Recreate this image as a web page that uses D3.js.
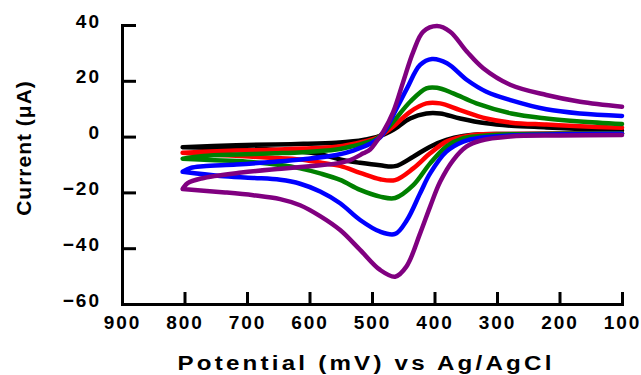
<!DOCTYPE html>
<html>
<head>
<meta charset="utf-8">
<script src="https://cdn.jsdelivr.net/npm/d3@7"></script>
<style>
  body { margin: 0; background: #fff; }
  svg { display: block; }
  text { font-family: "Liberation Sans", Arial, sans-serif; font-weight: bold; fill: #000; }
  .tick text { font-size: 19px; letter-spacing: 2px; }
  .axis path, .axis line { stroke: #000; stroke-width: 3; }
  .cv { fill: none; stroke-width: 4.5; stroke-linejoin: round; stroke-linecap: round; }
</style>
</head>
<body>
<svg width="641" height="375"></svg>
<script>
// tick values
const xTicks = [900, 800, 700, 600, 500, 400, 300, 200, 100]
const yTicks = [40, 20, 0, -20, -40, -60]

// [potential mV, current uA]; return branch (100 -> 800), then forward branch (800 -> 100)
const blackLower = [[100,1.1],[200,1.0],[279,0.9],[327,0.8],[354,0.2],[381,-1.2],[407,-3.6],[434,-7.2],[463,-10.6],[487,-10.3],[519,-9.4],[551,-8.2],[583,-6.3],[615,-5.3],[663,-4.6],[717,-4.2],[770,-4.0],[803,-3.8]]
const blackUpper = [[803,-3.8],[717,-3.1],[655,-2.8],[610,-2.6],[557,-2.2],[530,-1.7],[510,-1.0],[493,-0.2],[480,0.9],[466,2.4],[439,6.5],[413,8.3],[391,8.3],[359,6.5],[317,4.75],[277,3.9],[221,3.3],[167,2.7],[100,2.1]]

const redLower = [[100,1.2],[200,1.0],[279,0.9],[327,0.8],[354,0.0],[381,-1.8],[407,-6.0],[434,-11.4],[463,-15.6],[487,-15.3],[519,-13.0],[551,-10.5],[583,-9.3],[615,-8.2],[663,-7.6],[717,-6.9],[770,-6.3],[803,-5.8]]
const redUpper = [[803,-5.8],[770,-5.4],[717,-5.0],[655,-4.7],[610,-4.3],[557,-3.6],[514,-1.8],[492,-0.4],[480,1.2],[466,3.6],[439,8.9],[413,11.9],[391,11.9],[359,9.5],[317,6.5],[277,5.0],[221,4.3],[167,3.7],[100,3.2]]

const greenLower = [[100,1.2],[200,1.0],[279,0.8],[327,0.2],[354,-0.6],[381,-3.6],[407,-9.6],[434,-17.4],[463,-22.0],[487,-21.5],[519,-19.1],[551,-15.5],[583,-13.2],[615,-11.4],[647,-10.2],[700,-9.0],[760,-8.4],[803,-7.9]]
const greenUpper = [[803,-7.9],[770,-6.95],[717,-6.4],[655,-6.0],[610,-5.6],[557,-4.6],[530,-3.4],[510,-2.2],[493,-0.8],[480,1.8],[466,5.3],[439,12.5],[413,17.3],[396,17.5],[370,15.5],[333,11.9],[277,8.3],[221,6.5],[167,5.4],[100,4.5]]

const blueLower = [[100,1.0],[200,0.8],[279,0.4],[327,-0.4],[354,-1.8],[381,-5.4],[407,-13.2],[423,-20.3],[444,-29.9],[463,-34.9],[487,-34.1],[519,-29.9],[551,-23.9],[583,-19.7],[615,-16.9],[647,-15.5],[690,-14.8],[743,-14.1],[803,-12.6]]
const blueUpper = [[803,-12.6],[790,-11.2],[770,-10.6],[717,-10.0],[655,-9.0],[610,-8.1],[557,-6.6],[530,-5.0],[503,-2.6],[487,-0.3],[478,2.5],[466,7.7],[444,17.3],[423,25.7],[404,27.8],[380,26.3],[348,20.3],[317,16.1],[277,13.0],[221,9.8],[167,8.3],[100,7.4]]

const purpleLower = [[100,0.6],[200,0.4],[279,0.0],[327,-1.5],[349,-3.6],[370,-8.4],[391,-16.2],[407,-25.1],[423,-34.7],[445,-46.6],[463,-50.2],[487,-47.8],[519,-40.6],[551,-33.5],[583,-28.5],[615,-24.6],[647,-22.4],[690,-21.0],[735,-20.0],[803,-18.8]]
const purpleUpper = [[803,-18.8],[795,-16.7],[773,-15.0],[709,-12.9],[645,-11.5],[600,-10.6],[556,-9.6],[535,-8.4],[514,-6.0],[503,-4.6],[493,-1.8],[482,1.8],[466,8.9],[450,19.7],[434,30.4],[418,37.6],[396,39.6],[375,37.6],[348,30.4],[322,24.5],[279,18.6],[221,14.9],[167,12.5],[100,10.7]]

const seriesColors = ["#000000", "#ff0000", "#008000", "#0000ff", "#800080"]
const seriesData = [
    [blackLower, blackUpper],
    [redLower, redUpper],
    [greenLower, greenUpper],
    [blueLower, blueUpper],
    [purpleLower, purpleUpper]
]

const svg = d3.select("svg")

const scaleX = d3.scaleLinear()
    .domain([900, 100])
    .range([122, 622])
const scaleY = d3.scaleLinear()
    .domain([-60, 40])
    .range([304, 25])

const line = d3.line()
    .x(d => scaleX(d[0]))
    .y(d => scaleY(d[1]))
    .curve(d3.curveCatmullRom.alpha(0.5))

// draw each sweep on its own and join them at the 800 mV vertex
const cvPath = function(d){
    return line(d[0]) + line(d[1]).replace(/^M/, "L")
}

svg.selectAll("path.cv")
    .data(seriesData)
    .enter()
    .append("path")
    .attr("class", "cv")
    .attr("stroke", (d, i) => seriesColors[i])
    .attr("d", d => cvPath(d))

const axisXGroup = svg.append("g")
    .attr("class", "axis x-axis")
    .attr("transform", "translate(0,304)")
    .call(d3.axisBottom(scaleX)
        .tickValues(xTicks)
        .tickSize(-12)
        .tickSizeOuter(0)
        .tickPadding(12))

const axisYGroup = svg.append("g")
    .attr("class", "axis y-axis")
    .attr("transform", "translate(122,0)")
    .call(d3.axisLeft(scaleY)
        .tickValues(yTicks)
        .tickSize(-14)
        .tickSizeOuter(0)
        .tickPadding(21))

axisYGroup.selectAll(".tick text").attr("y", -4)
svg.selectAll(".axis path.domain").attr("stroke-linecap", "square")

svg.append("text")
    .attr("transform", "translate(366,370) scale(1.15,1)")
    .attr("text-anchor", "middle")
    .style("font-size", "21px")
    .style("letter-spacing", "2.8px")
    .text("Potential (mV) vs Ag/AgCl")

svg.append("text")
    .attr("transform", "translate(31,148) rotate(-90)")
    .attr("text-anchor", "middle")
    .style("font-size", "21px")
    .style("letter-spacing", "1px")
    .text("Current (\u03bcA)")
</script>
</body>
</html>
